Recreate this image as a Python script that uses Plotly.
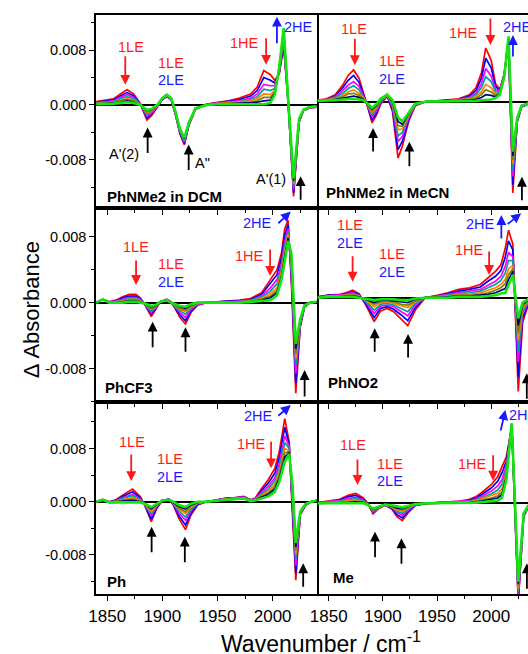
import plotly.graph_objects as go

# ---------------- data (ΔA in units of 1e-3, i.e. mOD) ----------------
WN_DCM = [1840, 1848, 1856, 1862, 1868, 1874, 1880, 1886, 1890, 1896, 1900, 1904, 1908, 1912, 1916, 1920, 1924, 1930,
          1940, 1950, 1960, 1970, 1980, 1986, 1992, 1998, 2002, 2006, 2010, 2014, 2019, 2024, 2028, 2034, 2040]
DCM_SPECTRA = [
    [0.5, 0.7, 0.9, 1.6, 2.2, 1.6, 0.2, -2.2, -1.6, -0.2, 0.8, 1.2, 0.8, -1.5, -4.2, -5.8, -3.0, -0.6, 0.1, 0.4, 0.6, 1.0, 1.6, 2.6, 5.0, 4.4, 3.6, 4.5, 8.4, 0.5, -13.3, -2.5, -0.8, -0.4, -0.3],
    [0.4, 0.6, 0.8, 1.3, 1.8, 1.3, 0.2, -1.9, -1.4, -0.1, 0.8, 1.3, 0.8, -1.4, -4.1, -5.6, -2.9, -0.6, 0.1, 0.3, 0.5, 0.8, 1.3, 2.1, 4.0, 3.6, 3.2, 4.7, 9.0, 0.6, -12.8, -2.4, -0.8, -0.4, -0.3],
    [0.3, 0.5, 0.6, 1.1, 1.5, 1.1, 0.1, -1.6, -1.2, -0.1, 0.9, 1.3, 0.9, -1.3, -3.9, -5.4, -2.8, -0.6, 0.1, 0.3, 0.4, 0.6, 1.0, 1.6, 3.0, 2.8, 2.8, 4.9, 9.5, 0.7, -12.3, -2.3, -0.8, -0.4, -0.3],
    [0.3, 0.4, 0.5, 0.9, 1.2, 0.9, 0.1, -1.4, -1.0, 0.0, 0.9, 1.4, 0.9, -1.2, -3.8, -5.3, -2.8, -0.5, 0.0, 0.2, 0.3, 0.5, 0.8, 1.2, 2.3, 2.1, 2.4, 5.1, 9.9, 0.8, -11.9, -2.2, -0.7, -0.3, -0.2],
    [0.2, 0.3, 0.4, 0.7, 0.9, 0.7, 0.1, -1.1, -0.9, 0.0, 0.9, 1.4, 0.9, -1.2, -3.7, -5.1, -2.7, -0.5, 0.0, 0.2, 0.3, 0.4, 0.6, 0.9, 1.6, 1.5, 2.1, 5.2, 10.4, 0.9, -11.5, -2.2, -0.7, -0.3, -0.2],
    [0.2, 0.2, 0.3, 0.6, 0.8, 0.6, 0.0, -1.0, -0.8, 0.0, 1.0, 1.4, 1.0, -1.1, -3.6, -5.0, -2.7, -0.5, 0.0, 0.2, 0.2, 0.3, 0.4, 0.6, 1.1, 1.1, 1.9, 5.3, 10.6, 0.9, -11.2, -2.1, -0.7, -0.3, -0.2],
    [0.1, 0.2, 0.3, 0.4, 0.6, 0.4, 0.0, -0.8, -0.7, 0.1, 1.0, 1.5, 1.0, -1.1, -3.6, -4.9, -2.6, -0.5, 0.0, 0.1, 0.2, 0.2, 0.3, 0.4, 0.6, 0.7, 1.7, 5.4, 10.9, 1.0, -11.0, -2.1, -0.7, -0.3, -0.2],
    [0.1, 0.1, 0.2, 0.3, 0.4, 0.3, 0.0, -0.7, -0.6, 0.1, 1.0, 1.5, 1.0, -1.0, -3.5, -4.8, -2.6, -0.5, 0.0, 0.1, 0.1, 0.1, 0.1, 0.1, 0.1, 0.3, 1.5, 5.5, 11.2, 1.0, -10.7, -2.0, -0.7, -0.3, -0.2],
]

WN_MECN = [1840, 1848, 1856, 1863, 1868, 1873, 1878, 1882, 1886, 1890, 1894, 1898, 1904, 1909, 1914, 1918, 1924, 1930,
           1940, 1950, 1960, 1970, 1980, 1986, 1991, 1995, 2000, 2004, 2008, 2012, 2016, 2020, 2024, 2028, 2035]
MECN_SPECTRA = [
    [0.2, 0.4, 1.0, 2.4, 3.8, 4.6, 3.4, 1.4, -0.8, -3.1, -2.0, -0.4, 0.8, -1.5, -8.2, -6.5, -2.8, -0.6, 0.0, 0.1, 0.2, 0.4, 1.0, 2.0, 4.2, 7.8, 6.0, 2.6, 1.8, 4.0, 8.2, -13.3, -3.0, -0.8, -0.3],
    [0.2, 0.3, 0.8, 2.0, 3.1, 3.8, 2.8, 1.2, -0.7, -2.7, -1.7, -0.2, 0.8, -1.2, -7.0, -5.8, -2.6, -0.5, 0.0, 0.1, 0.2, 0.3, 0.8, 1.6, 3.4, 6.3, 4.9, 2.2, 1.6, 3.9, 8.5, -12.1, -2.9, -0.8, -0.3],
    [0.2, 0.3, 0.7, 1.6, 2.4, 2.9, 2.2, 0.9, -0.6, -2.2, -1.4, -0.1, 0.9, -0.8, -5.8, -5.1, -2.3, -0.5, 0.0, 0.1, 0.1, 0.3, 0.6, 1.2, 2.6, 4.8, 3.7, 1.8, 1.5, 3.8, 8.7, -10.9, -2.8, -0.7, -0.3],
    [0.1, 0.2, 0.6, 1.2, 1.9, 2.3, 1.7, 0.7, -0.5, -1.9, -1.1, 0.0, 0.9, -0.6, -5.0, -4.5, -2.1, -0.4, 0.0, 0.0, 0.1, 0.2, 0.5, 1.0, 2.0, 3.6, 2.9, 1.4, 1.4, 3.7, 8.9, -10.0, -2.7, -0.7, -0.2],
    [0.1, 0.2, 0.4, 0.9, 1.4, 1.7, 1.2, 0.6, -0.5, -1.6, -0.9, 0.2, 0.9, -0.3, -4.1, -4.0, -2.0, -0.4, 0.0, 0.0, 0.1, 0.2, 0.4, 0.7, 1.4, 2.5, 2.0, 1.1, 1.2, 3.7, 9.1, -9.1, -2.6, -0.7, -0.2],
    [0.1, 0.2, 0.4, 0.7, 1.1, 1.2, 0.9, 0.4, -0.4, -1.3, -0.7, 0.2, 1.0, -0.1, -3.5, -3.6, -1.8, -0.4, 0.0, 0.0, 0.0, 0.2, 0.3, 0.5, 1.0, 1.7, 1.4, 0.9, 1.2, 3.6, 9.2, -8.5, -2.5, -0.6, -0.2],
    [0.1, 0.1, 0.3, 0.5, 0.7, 0.8, 0.6, 0.3, -0.4, -1.1, -0.6, 0.3, 1.0, 0.0, -2.9, -3.3, -1.7, -0.3, 0.0, 0.0, 0.0, 0.1, 0.2, 0.3, 0.6, 1.0, 0.9, 0.7, 1.1, 3.6, 9.4, -7.9, -2.5, -0.6, -0.2],
    [0.1, 0.1, 0.2, 0.3, 0.4, 0.4, 0.3, 0.2, -0.3, -0.9, -0.4, 0.4, 1.0, 0.2, -2.3, -2.9, -1.6, -0.3, 0.0, 0.0, 0.0, 0.1, 0.1, 0.1, 0.2, 0.2, 0.3, 0.5, 1.0, 3.5, 9.5, -7.3, -2.4, -0.6, -0.2],
]

WN_CF3 = [1840, 1846, 1852, 1858, 1864, 1870, 1876, 1880, 1884, 1890, 1894, 1898, 1904, 1908, 1912, 1916, 1921, 1926,
          1932, 1940, 1950, 1960, 1970, 1980, 1990, 1998, 2004, 2008, 2011, 2014, 2017, 2021, 2025, 2029, 2034, 2040]
CF3_SPECTRA = [
    [0.0, 0.4, 0.1, 0.3, 0.7, 1.0, 1.0, 0.6, -0.2, -1.7, -0.8, 0.1, 0.4, 0.1, -0.8, -1.8, -2.6, -1.2, -0.3, 0.0, 0.1, 0.2, 0.3, 0.5, 1.2, 2.8, 4.0, 6.0, 9.0, 10.0, 2.4, -11.0, -3.0, -0.5, 0.0, 0.1],
    [0.0, 0.4, 0.1, 0.2, 0.6, 0.8, 0.8, 0.5, -0.2, -1.4, -0.7, 0.1, 0.4, 0.1, -0.7, -1.5, -2.2, -1.0, -0.2, 0.0, 0.1, 0.2, 0.2, 0.4, 1.0, 2.3, 3.4, 5.4, 8.2, 9.5, 3.1, -9.8, -2.8, -0.5, 0.0, 0.1],
    [0.0, 0.4, 0.1, 0.2, 0.4, 0.6, 0.6, 0.4, -0.2, -1.2, -0.6, 0.1, 0.4, 0.1, -0.6, -1.2, -1.8, -0.8, -0.2, 0.0, 0.1, 0.1, 0.2, 0.3, 0.8, 1.8, 2.8, 4.7, 7.4, 9.0, 3.8, -8.6, -2.6, -0.4, 0.0, 0.1],
    [0.0, 0.4, 0.0, 0.1, 0.3, 0.5, 0.5, 0.3, -0.1, -1.0, -0.5, 0.1, 0.3, 0.0, -0.5, -1.0, -1.4, -0.7, -0.1, 0.0, 0.0, 0.1, 0.1, 0.3, 0.7, 1.4, 2.3, 4.2, 6.8, 8.6, 4.4, -7.7, -2.5, -0.4, 0.0, 0.1],
    [0.0, 0.4, 0.0, 0.1, 0.2, 0.4, 0.4, 0.2, -0.1, -0.8, -0.5, 0.1, 0.3, 0.0, -0.4, -0.8, -1.1, -0.5, -0.1, 0.0, 0.0, 0.1, 0.1, 0.2, 0.5, 1.1, 1.8, 3.8, 6.2, 8.3, 4.9, -6.8, -2.3, -0.4, 0.0, 0.1],
    [0.0, 0.4, 0.0, 0.1, 0.1, 0.3, 0.3, 0.1, -0.1, -0.7, -0.4, 0.1, 0.3, 0.0, -0.3, -0.7, -0.9, -0.4, -0.1, 0.0, 0.0, 0.0, 0.1, 0.2, 0.4, 0.8, 1.5, 3.4, 5.8, 8.0, 5.3, -6.2, -2.2, -0.3, 0.0, 0.1],
    [0.0, 0.4, 0.0, 0.0, 0.1, 0.2, 0.2, 0.1, -0.1, -0.5, -0.4, 0.1, 0.3, 0.0, -0.3, -0.5, -0.7, -0.3, 0.0, 0.0, 0.0, 0.0, 0.0, 0.1, 0.3, 0.6, 1.2, 3.1, 5.4, 7.8, 5.6, -5.6, -2.1, -0.3, 0.0, 0.1],
    [0.0, 0.4, 0.0, 0.0, 0.0, 0.1, 0.1, 0.0, -0.1, -0.4, -0.3, 0.1, 0.3, 0.0, -0.2, -0.4, -0.5, -0.2, 0.0, 0.0, 0.0, 0.0, 0.0, 0.1, 0.2, 0.3, 0.9, 2.8, 5.0, 7.5, 6.0, -5.0, -2.0, -0.3, 0.0, 0.1],
]

WN_NO2 = [1840, 1850, 1860, 1866, 1872, 1878, 1884, 1892, 1898, 1904, 1910, 1917, 1923, 1930, 1939, 1950, 1960,
          1970, 1980, 1990, 1997, 2004, 2009, 2013, 2016, 2020, 2025, 2029, 2035]
NO2_SPECTRA = [
    [0.1, 0.3, 0.4, 0.6, 0.9, 0.5, -0.8, -2.9, -1.6, -1.3, -1.7, -2.6, -3.4, -1.5, 0.0, 0.3, 0.6, 1.0, 1.2, 1.6, 2.4, 3.2, 4.0, 6.0, 8.2, 6.5, -11.4, -3.0, -0.6],
    [0.1, 0.3, 0.3, 0.5, 0.7, 0.4, -0.7, -2.4, -1.3, -1.1, -1.4, -2.1, -2.8, -1.2, 0.0, 0.2, 0.5, 0.8, 1.0, 1.3, 2.0, 2.6, 3.3, 4.9, 6.9, 5.8, -9.6, -2.5, -0.5],
    [0.1, 0.2, 0.3, 0.4, 0.6, 0.3, -0.5, -1.9, -1.0, -0.9, -1.1, -1.7, -2.2, -0.9, 0.0, 0.2, 0.4, 0.6, 0.8, 1.0, 1.5, 2.0, 2.6, 3.8, 5.5, 5.0, -7.8, -2.0, -0.4],
    [0.0, 0.2, 0.2, 0.3, 0.5, 0.2, -0.4, -1.5, -0.8, -0.7, -0.9, -1.3, -1.7, -0.7, 0.0, 0.1, 0.3, 0.5, 0.6, 0.8, 1.2, 1.6, 2.1, 3.0, 4.5, 4.5, -6.5, -1.7, -0.3],
    [0.0, 0.2, 0.2, 0.3, 0.3, 0.2, -0.3, -1.1, -0.6, -0.5, -0.7, -1.0, -1.2, -0.5, 0.0, 0.1, 0.2, 0.4, 0.4, 0.6, 0.9, 1.2, 1.6, 2.2, 3.5, 3.9, -5.2, -1.3, -0.3],
    [0.0, 0.1, 0.2, 0.2, 0.3, 0.1, -0.2, -0.8, -0.5, -0.4, -0.5, -0.8, -0.9, -0.4, 0.0, 0.1, 0.1, 0.3, 0.3, 0.4, 0.6, 0.9, 1.2, 1.7, 2.8, 3.5, -4.3, -1.1, -0.2],
    [0.0, 0.1, 0.1, 0.2, 0.2, 0.1, -0.2, -0.6, -0.3, -0.3, -0.4, -0.5, -0.6, -0.2, 0.0, 0.0, 0.1, 0.2, 0.2, 0.3, 0.4, 0.6, 0.9, 1.1, 2.2, 3.2, -3.4, -0.8, -0.2],
    [0.0, 0.1, 0.1, 0.1, 0.1, 0.0, -0.1, -0.3, -0.2, -0.2, -0.2, -0.3, -0.3, -0.1, 0.0, 0.0, 0.0, 0.1, 0.1, 0.1, 0.2, 0.3, 0.5, 0.6, 1.5, 2.8, -2.5, -0.6, -0.1],
]

WN_PH = [1840, 1846, 1852, 1858, 1864, 1873, 1880, 1884, 1890, 1895, 1900, 1906, 1910, 1915, 1921, 1926, 1932, 1940,
         1950, 1957, 1965, 1974, 1980, 1984, 1990, 1996, 2002, 2006, 2011, 2015, 2018, 2021, 2025, 2030, 2035, 2040]
PH_SPECTRA = [
    [0.0, 0.3, 0.0, 0.3, 1.0, 1.9, 0.8, -0.5, -3.0, -1.0, 0.2, 0.4, -0.5, -2.5, -4.2, -2.0, -0.5, 0.0, 0.3, 0.5, 0.6, 0.8, 0.3, 0.5, 2.0, 3.3, 5.0, 7.5, 12.5, 9.0, -2.0, -11.8, -2.0, -0.5, 0.0, 0.2],
    [0.0, 0.3, 0.0, 0.2, 0.8, 1.5, 0.6, -0.5, -2.6, -0.9, 0.2, 0.4, -0.4, -2.1, -3.5, -1.7, -0.4, 0.0, 0.3, 0.5, 0.6, 0.7, 0.3, 0.4, 1.7, 2.8, 4.3, 6.6, 11.2, 8.6, -1.1, -10.7, -1.9, -0.5, 0.0, 0.2],
    [0.0, 0.3, 0.0, 0.1, 0.6, 1.1, 0.4, -0.4, -2.1, -0.7, 0.2, 0.4, -0.3, -1.7, -2.8, -1.3, -0.3, 0.0, 0.3, 0.4, 0.5, 0.7, 0.2, 0.4, 1.4, 2.3, 3.6, 5.7, 9.9, 8.3, -0.2, -9.6, -1.8, -0.4, 0.0, 0.2],
    [0.0, 0.3, -0.1, 0.1, 0.5, 0.9, 0.3, -0.4, -1.8, -0.6, 0.2, 0.3, -0.2, -1.4, -2.3, -1.1, -0.2, 0.0, 0.2, 0.4, 0.5, 0.6, 0.2, 0.3, 1.2, 1.9, 3.1, 5.0, 8.9, 8.0, 0.5, -8.7, -1.7, -0.4, 0.0, 0.2],
    [0.0, 0.3, -0.1, 0.0, 0.3, 0.6, 0.2, -0.4, -1.5, -0.5, 0.2, 0.3, -0.2, -1.1, -1.8, -0.8, -0.2, 0.0, 0.2, 0.4, 0.5, 0.6, 0.2, 0.3, 1.0, 1.6, 2.6, 4.4, 8.0, 7.7, 1.2, -7.9, -1.7, -0.4, 0.0, 0.2],
    [0.0, 0.3, -0.1, 0.0, 0.2, 0.4, 0.1, -0.3, -1.2, -0.4, 0.2, 0.3, -0.1, -0.9, -1.5, -0.6, -0.1, 0.0, 0.2, 0.3, 0.4, 0.6, 0.1, 0.3, 0.8, 1.3, 2.2, 3.9, 7.3, 7.6, 1.6, -7.3, -1.6, -0.3, 0.0, 0.2],
    [0.0, 0.3, -0.1, -0.1, 0.1, 0.2, 0.0, -0.3, -1.0, -0.4, 0.2, 0.3, -0.1, -0.7, -1.1, -0.5, -0.1, 0.0, 0.2, 0.3, 0.4, 0.5, 0.1, 0.2, 0.7, 1.1, 1.9, 3.5, 6.7, 7.4, 2.1, -6.8, -1.6, -0.3, 0.0, 0.2],
    [0.0, 0.3, -0.1, -0.1, 0.0, 0.0, -0.1, -0.3, -0.8, -0.3, 0.2, 0.3, 0.0, -0.5, -0.8, -0.3, 0.0, 0.0, 0.2, 0.3, 0.4, 0.5, 0.1, 0.2, 0.5, 0.8, 1.5, 3.0, 6.0, 7.2, 2.5, -6.2, -1.5, -0.3, 0.0, 0.2],
]

WN_ME = [1840, 1850, 1860, 1868, 1875, 1882, 1886, 1891, 1896, 1902, 1908, 1913, 1918, 1923, 1930, 1940, 1950, 1960,
         1970, 1980, 1986, 1992, 2000, 2006, 2010, 2014, 2019, 2022, 2025, 2030, 2035]
ME_SPECTRA = [
    [0.1, 0.3, 0.6, 1.2, 1.5, 0.8, 0.0, -1.6, -0.8, -0.3, -0.8, -2.0, -2.6, -1.5, -0.3, 0.0, 0.1, 0.2, 0.3, 0.6, 1.0, 1.7, 2.8, 4.0, 5.5, 7.0, 11.5, -2.0, -15.0, -2.0, -0.3],
    [0.1, 0.2, 0.5, 1.0, 1.2, 0.6, 0.0, -1.4, -0.7, -0.3, -0.7, -1.7, -2.2, -1.3, -0.3, 0.0, 0.1, 0.2, 0.2, 0.5, 0.8, 1.4, 2.3, 3.3, 4.6, 6.3, 11.6, -1.6, -14.4, -1.9, -0.3],
    [0.1, 0.2, 0.4, 0.7, 0.9, 0.5, -0.1, -1.3, -0.7, -0.3, -0.6, -1.4, -1.8, -1.1, -0.2, 0.0, 0.1, 0.1, 0.2, 0.4, 0.6, 1.1, 1.8, 2.6, 3.6, 5.6, 11.7, -1.2, -13.7, -1.8, -0.3],
    [0.0, 0.1, 0.3, 0.5, 0.7, 0.4, -0.1, -1.2, -0.6, -0.2, -0.5, -1.2, -1.5, -0.9, -0.2, 0.0, 0.0, 0.1, 0.1, 0.3, 0.5, 0.9, 1.4, 2.0, 2.9, 5.1, 11.8, -0.9, -13.2, -1.7, -0.2],
    [0.0, 0.1, 0.2, 0.4, 0.5, 0.2, -0.1, -1.0, -0.6, -0.2, -0.5, -1.0, -1.2, -0.7, -0.2, 0.0, 0.0, 0.1, 0.1, 0.2, 0.4, 0.7, 1.1, 1.5, 2.2, 4.6, 11.9, -0.6, -12.8, -1.7, -0.2],
    [0.0, 0.1, 0.1, 0.2, 0.3, 0.2, -0.2, -1.0, -0.6, -0.2, -0.4, -0.8, -1.0, -0.6, -0.1, 0.0, 0.0, 0.0, 0.1, 0.1, 0.3, 0.5, 0.8, 1.1, 1.7, 4.2, 11.9, -0.4, -12.4, -1.6, -0.2],
    [0.0, 0.0, 0.1, 0.1, 0.2, 0.1, -0.2, -0.9, -0.5, -0.2, -0.4, -0.7, -0.8, -0.5, -0.1, 0.0, 0.0, 0.0, 0.0, 0.1, 0.2, 0.4, 0.6, 0.8, 1.3, 3.9, 12.0, -0.2, -12.1, -1.6, -0.2],
    [0.0, 0.0, 0.0, 0.0, 0.0, 0.0, -0.2, -0.8, -0.5, -0.2, -0.3, -0.5, -0.6, -0.4, -0.1, 0.0, 0.0, 0.0, 0.0, 0.0, 0.1, 0.2, 0.3, 0.4, 0.8, 3.5, 12.0, 0.0, -11.8, -1.5, -0.2],
]

PANEL_NAMES = ["PhNMe2 in DCM", "PhNMe2 in MeCN", "PhCF3", "PhNO2", "Ph", "Me"]
PANEL_WN = [WN_DCM, WN_MECN, WN_CF3, WN_NO2, WN_PH, WN_ME]
PANEL_SPECTRA = [DCM_SPECTRA, MECN_SPECTRA, CF3_SPECTRA, NO2_SPECTRA, PH_SPECTRA, ME_SPECTRA]

X_TICKS = [1850, 1900, 1950, 2000]
X_TICK_TEXT = ["1850", "1900", "1950", "2000"]
X_MINOR = [1875, 1925, 1975, 2025]
Y_TICKS = [-8, 0, 8]
Y_TICK_TEXT = ["-0.008", "0.000", "0.008"]
Y_MINOR = [-12, -4, 4, 12]

# ---------------- styles / layout ----------------
TRACE_COLORS = ["#FF0000", "#0000FF", "#FF00FF", "#00A0A0", "#FF8000", "#808000", "#000080", "#11E611"]
RED, BLUE, BLACK = "#FF1A1A", "#1A1AFF", "#000000"
FONT = "Arial, Liberation Sans, sans-serif"

W, H = 528, 654
COL_DOMAINS = [[89.5 / W, 313.5 / W], [313.5 / W, 1.0]]
ROW_DOMAINS = [[1 - 208 / H, 1 - 15 / H], [1 - 402 / H, 1 - 208 / H], [1 - 594.3 / H, 1 - 402 / H]]
X_RANGES = [[1840, 2040], [1839, 2034]]
Y_RANGES = [[-15.0, 13.1], [-15.5, 12.6], [-12.07, 11.5], [-12.68, 10.9], [-13.92, 15.0], [-13.68, 15.23]]

# labels: (text, color, wavenumber, value)
PANEL_TEXTS = [
    [("1LE", RED, 1871.8, 8.5), ("1LE", RED, 1907.6, 6.1), ("2LE", BLUE, 1907.6, 3.57), ("1HE", RED, 1974.7, 9.0),
     ("2HE", BLUE, 2023.9, 11.4), ("A'(2)", BLACK, 1865.5, -7.2), ('A"', BLACK, 1936.5, -8.4), ("A'(1)", BLACK, 1998.6, -10.8)],
    [("1LE", RED, 1873.6, 10.5), ("1LE", RED, 1908.0, 5.9), ("2LE", BLUE, 1908.0, 3.28), ("1HE", RED, 1974.9, 9.93),
     ("2HE", BLUE, 2024.1, 10.9)],
    [("1LE", RED, 1876.2, 6.8), ("1LE", RED, 1908.2, 4.7), ("2LE", BLUE, 1908.2, 2.55), ("1HE", RED, 1979.2, 5.67),
     ("2HE", BLUE, 1986.6, 9.65)],
    [("1LE", RED, 1869.9, 8.84), ("2LE", BLUE, 1869.9, 6.61), ("1LE", RED, 1908.7, 5.28), ("2LE", BLUE, 1908.7, 3.16),
     ("1HE", RED, 1980.4, 5.8), ("2HE", BLUE, 1990.2, 8.96)],
    [("1LE", RED, 1872.7, 9.02), ("1LE", RED, 1906.9, 6.42), ("2LE", BLUE, 1906.9, 3.76), ("1HE", RED, 1981.2, 8.68),
     ("2HE", BLUE, 1987.2, 12.89)],
    [("1LE", RED, 1872.1, 8.76), ("1LE", RED, 1906.2, 5.91), ("2LE", BLUE, 1906.2, 3.4), ("1HE", RED, 1982.6, 5.91),
     ("2HE", BLUE, 2030.0, 13.27)],
]
# arrows: (color, head wavenumber, head value, tail dx px, tail dy px)
PANEL_ARROWS = [
    [(RED, 1866.4, 2.94, 0, -30), (RED, 1994.1, 5.85, 0, -28), (BLUE, 2003.9, 12.85, 0, 28),
     (BLACK, 1886.7, -3.29, 0, 27), (BLACK, 1923.9, -5.76, 0, 27), (BLACK, 2025.4, -10.36, 0, 25)],
    [(RED, 1874.2, 5.3, 0, -28), (RED, 1999.3, 8.23, 0, -28), (BLUE, 2020.1, 9.68, 0, 23),
     (BLACK, 1891.0, -3.86, 0, 25), (BLACK, 1924.5, -5.85, 0, 26), (BLACK, 2028.4, -10.95, 0, 25)],
    [(RED, 1876.2, 2.15, 0, -26), (RED, 1997.7, 3.24, 0, -28), (BLUE, 2016.5, 11.06, -14, 13),
     (BLACK, 1891.2, -2.31, 0, 27), (BLACK, 1921.0, -2.99, 0, 26), (BLACK, 2029.0, -8.18, 0, 28)],
    [(RED, 1872.1, 1.94, 0, -27), (RED, 1998.1, 2.76, 0, -25), (BLUE, 2009.4, 10.05, 0, 25), (BLUE, 2027.7, 10.26, -15, 12),
     (BLACK, 1892.5, -3.72, 0, 25), (BLACK, 1923.3, -4.41, 0, 25), (BLACK, 2032.9, -9.19, 0, 27)],
    [(RED, 1871.8, 3.11, 0, -28), (RED, 1998.6, 5.02, 0, -28), (BLUE, 2016.5, 14.54, -14, 12),
     (BLACK, 1890.3, -3.76, 0, 27), (BLACK, 1920.4, -5.26, 0, 27), (BLACK, 2027.7, -9.26, 0, 25)],
    [(RED, 1876.6, 2.75, 0, -27), (RED, 2001.8, 3.4, 0, -27), (BLUE, 2013.1, 14.03, -5, 22),
     (BLACK, 1892.8, -4.27, 0, 27), (BLACK, 1917.2, -5.26, 0, 27), (BLACK, 2033.0, -9.02, 0, 27)],
]
PANEL_LABEL_POS = [(1847.6, -13.3), (1845.5, -13.3), (1845.8, -10.36), (1847.3, -10.25), (1847.6, -11.93), (1851.9, -11.08)]

fig = go.Figure()
annotations = []
layout_axes = {}

for i in range(6):
    row, col = i // 2, i % 2
    sfx = "" if i == 0 else str(i + 1)
    xa, ya = "x" + sfx, "y" + sfx
    spectra = PANEL_SPECTRA[i]
    for j, s in enumerate(spectra):
        last = j == len(spectra) - 1
        fig.add_trace(go.Scatter(
            x=PANEL_WN[i], y=s, mode="lines", xaxis=xa, yaxis=ya,
            line=dict(color=TRACE_COLORS[j], width=2.6 if last else 1.7),
            showlegend=False, hoverinfo="skip"))

    layout_axes["xaxis" + sfx] = dict(
        domain=COL_DOMAINS[col], anchor=ya, range=X_RANGES[col],
        showline=True, linecolor="black", linewidth=1.7, mirror=True,
        ticks="outside", ticklen=5, tickwidth=1.3, tickcolor="black",
        tickmode="array", tickvals=X_TICKS, ticktext=X_TICK_TEXT,
        showticklabels=(row == 2), tickfont=dict(size=17, color="black", family=FONT),
        minor=dict(tickmode="array", tickvals=X_MINOR, ticks="outside", ticklen=3, tickwidth=1.2, tickcolor="black"),
        showgrid=False, zeroline=False)
    yax = dict(
        domain=ROW_DOMAINS[row], anchor=xa, range=Y_RANGES[i],
        showgrid=False, zeroline=True, zerolinecolor="black", zerolinewidth=1.6,
        tickmode="array", tickvals=Y_TICKS, ticktext=Y_TICK_TEXT,
        tickfont=dict(size=14.5, color="black", family=FONT))
    if col == 0:
        yax.update(showline=True, linecolor="black", linewidth=1.7, mirror=True,
                   ticks="outside", ticklen=5, tickwidth=1.3, tickcolor="black", showticklabels=True,
                   minor=dict(tickmode="array", tickvals=Y_MINOR, ticks="outside", ticklen=3, tickwidth=1.2, tickcolor="black"))
    else:
        yax.update(showline=False, ticks="", showticklabels=False)
    layout_axes["yaxis" + sfx] = yax

    for (txt, color, xv, yv) in PANEL_TEXTS[i]:
        annotations.append(dict(x=xv, y=yv, xref=xa, yref=ya, text=txt, showarrow=False,
                                font=dict(size=14.5, color=color, family=FONT), xanchor="center", yanchor="middle"))
    for (color, xv, yv, dx, dy) in PANEL_ARROWS[i]:
        annotations.append(dict(x=xv, y=yv, xref=xa, yref=ya, text="", showarrow=True, ax=dx, ay=dy,
                                axref="pixel", ayref="pixel", arrowhead=2, arrowsize=1.1, arrowwidth=1.8,
                                arrowcolor=color, standoff=0, startstandoff=0))
    lx, ly = PANEL_LABEL_POS[i]
    annotations.append(dict(x=lx, y=ly, xref=xa, yref=ya, text="<b>%s</b>" % PANEL_NAMES[i], showarrow=False,
                            font=dict(size=15, color="black", family=FONT), xanchor="left", yanchor="middle"))

annotations.append(dict(x=23.5 / W, y=1 - 310 / H, xref="paper", yref="paper", text="\u0394 Absorbance",
                        textangle=-90, showarrow=False, font=dict(size=22, color="black", family=FONT),
                        xanchor="center", yanchor="middle"))
annotations.append(dict(x=318 / W, y=1 - 642 / H, xref="paper", yref="paper", text="Wavenumber / cm<sup>-1</sup>",
                        showarrow=False, font=dict(size=23, color="black", family=FONT),
                        xanchor="center", yanchor="middle"))

fig.update_layout(width=W, height=H, margin=dict(l=0, r=0, t=0, b=0),
                  plot_bgcolor="white", paper_bgcolor="white", showlegend=False,
                  font=dict(family=FONT, color="black"), annotations=annotations, **layout_axes)

fig.write_html("out.html")
